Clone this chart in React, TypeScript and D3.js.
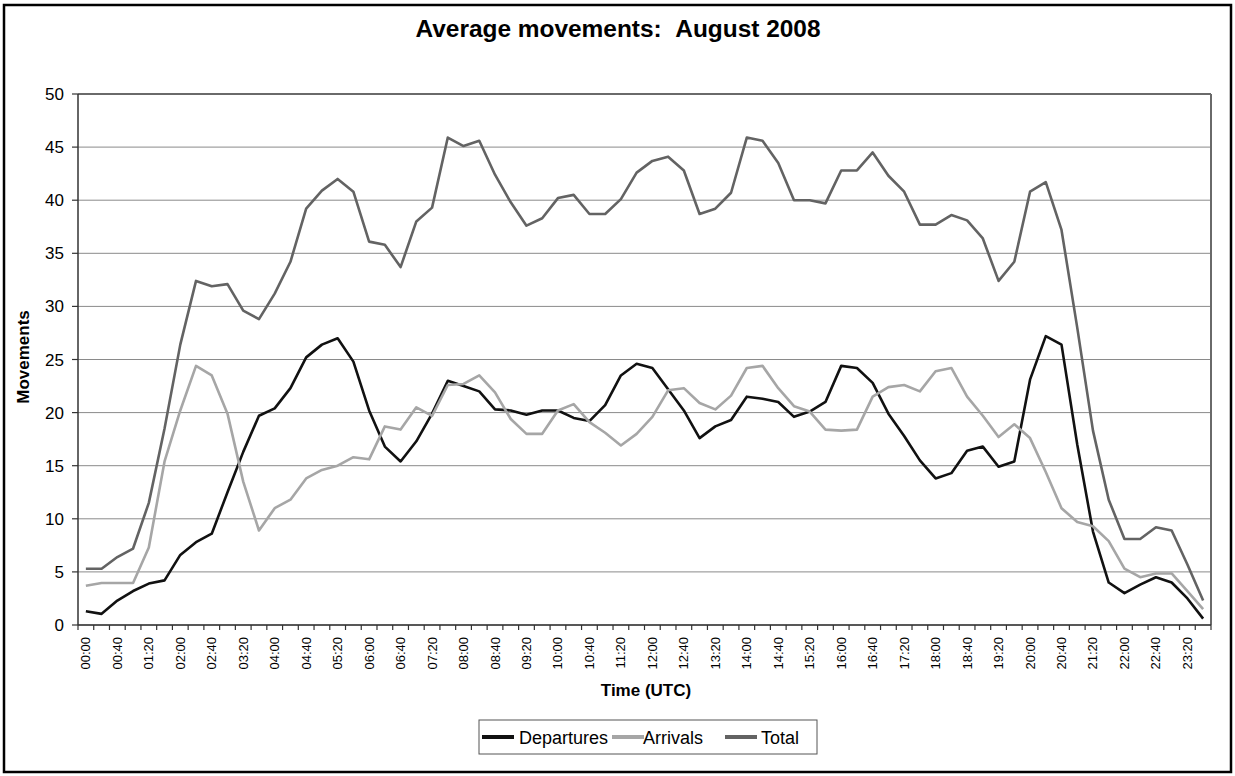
import React from "react";
import * as d3 from "d3";

// 20-minute slots, 00:00 .. 23:40
const times = d3.range(72).map((i) => {
  const h = Math.floor((i * 20) / 60);
  const m = (i * 20) % 60;
  return `${String(h).padStart(2, "0")}:${String(m).padStart(2, "0")}`;
});

const departures = [
  1.3, 1.05, 2.3, 3.2, 3.9, 4.2, 6.6, 7.8, 8.6, 12.5, 16.3, 19.7,
  20.4, 22.3, 25.2, 26.4, 27.0, 24.8, 20.2, 16.8, 15.4, 17.3, 19.9, 23.0,
  22.5, 22.0, 20.3, 20.2, 19.8, 20.2, 20.2, 19.5, 19.2, 20.7, 23.5, 24.6,
  24.2, 22.2, 20.2, 17.6, 18.7, 19.3, 21.5, 21.3, 21.0, 19.6, 20.1, 21.0,
  24.4, 24.2, 22.8, 19.9, 17.8, 15.5, 13.8, 14.3, 16.4, 16.8, 14.9, 15.4,
  23.1, 27.2, 26.4, 17.0, 8.8, 4.0, 3.0, 3.8, 4.5, 4.0, 2.5, 0.6,
];

const arrivals = [
  3.7, 3.95, 3.95, 3.95, 7.3, 15.4, 20.2, 24.4, 23.5, 19.9, 13.5, 8.9,
  11.0, 11.8, 13.8, 14.6, 15.0, 15.8, 15.6, 18.7, 18.4, 20.5, 19.7, 22.6,
  22.7, 23.5, 21.9, 19.4, 18.0, 18.0, 20.2, 20.8, 19.1, 18.1, 16.9, 18.0,
  19.6, 22.1, 22.3, 20.9, 20.3, 21.6, 24.2, 24.4, 22.3, 20.6, 20.1, 18.4,
  18.3, 18.4, 21.5, 22.4, 22.6, 22.0, 23.9, 24.2, 21.5, 19.7, 17.7, 18.9,
  17.6, 14.4, 11.0, 9.7, 9.3, 7.9, 5.3, 4.5, 4.85, 4.85, 3.2, 1.5,
];

const total = [
  5.3, 5.3, 6.4, 7.2, 11.5, 18.5, 26.4, 32.4, 31.9, 32.1, 29.6, 28.8,
  31.2, 34.2, 39.2, 40.9, 42.0, 40.8, 36.1, 35.8, 33.7, 38.0, 39.3, 45.9,
  45.1, 45.6, 42.4, 39.8, 37.6, 38.3, 40.2, 40.5, 38.7, 38.7, 40.1, 42.6,
  43.7, 44.1, 42.8, 38.7, 39.2, 40.7, 45.9, 45.6, 43.5, 40.0, 40.0, 39.7,
  42.8, 42.8, 44.5, 42.3, 40.8, 37.7, 37.7, 38.6, 38.1, 36.4, 32.4, 34.2,
  40.8, 41.7, 37.2, 28.0, 18.3, 11.8, 8.1, 8.1, 9.2, 8.9, 5.7, 2.3,
];

const yTicks = [0, 5, 10, 15, 20, 25, 30, 35, 40, 45, 50];

const series = [
  { name: "Departures", values: departures, color: "#111111" },
  { name: "Arrivals", values: arrivals, color: "#a6a6a6" },
  { name: "Total", values: total, color: "#636363" },
];

const W = 1235;
const H = 776;
const plot = { left: 78, right: 1211, top: 94, bottom: 625 };
const font = "'Liberation Sans', Arial, sans-serif";

export default function App() {
  const x = d3
    .scaleBand<number>()
    .domain(d3.range(times.length))
    .range([plot.left, plot.right]);
  const y = d3.scaleLinear().domain([0, 50]).range([plot.bottom, plot.top]);
  const cx = (i: number) => (x(i) as number) + x.bandwidth() / 2;

  const line = d3
    .line<number>()
    .x((_, i) => cx(i))
    .y((d) => y(d));

  // legend layout
  const legX = 479;
  const legY = 720;
  const legItems = [
    { ...series[0], sx: 482, tx: 519 },
    { ...series[1], sx: 612, tx: 643 },
    { ...series[2], sx: 725, tx: 761 },
  ];

  return (
    <svg
      width={W}
      height={H}
      style={{ position: "absolute", left: 0, top: 0, background: "#fff" }}
      fontFamily={font}
    >
      <rect x={0} y={0} width={W} height={H} fill="#fff" />
      <rect x={4} y={5} width={1227} height={767} fill="none" stroke="#000" strokeWidth={2.5} />

      <text
        x={618}
        y={37}
        textAnchor="middle"
        fontSize={23}
        fontWeight="bold"
        textLength={405}
        lengthAdjust="spacingAndGlyphs"
      >
        Average movements:{"\u00a0\u00a0"}August 2008
      </text>

      {/* gridlines */}
      {yTicks.map((t) => (
        <line key={t} x1={plot.left} x2={plot.right} y1={y(t)} y2={y(t)} stroke="#8a8a8a" strokeWidth={1} />
      ))}
      {/* plot frame */}
      <line x1={plot.left} x2={plot.right} y1={plot.top} y2={plot.top} stroke="#6a6a6a" strokeWidth={2} />
      <line x1={plot.right} x2={plot.right} y1={plot.top} y2={plot.bottom} stroke="#6a6a6a" strokeWidth={2} />

      {/* y axis */}
      <line x1={plot.left} x2={plot.left} y1={plot.top} y2={plot.bottom} stroke="#333" strokeWidth={1.5} />
      {yTicks.map((t) => (
        <g key={t}>
          <line x1={plot.left - 6} x2={plot.left} y1={y(t)} y2={y(t)} stroke="#333" strokeWidth={1.2} />
          <text x={64} y={y(t) + 6} textAnchor="end" fontSize={17}>
            {t}
          </text>
        </g>
      ))}
      <text transform={`translate(29, 357) rotate(-90)`} textAnchor="middle" fontSize={17} fontWeight="bold">
        Movements
      </text>

      {/* x axis */}
      <line x1={plot.left} x2={plot.right} y1={plot.bottom} y2={plot.bottom} stroke="#333" strokeWidth={1.5} />
      {d3.range(times.length + 1).map((i) => {
        const xx = i < times.length ? (x(i) as number) : plot.right;
        return <line key={i} x1={xx} x2={xx} y1={plot.bottom} y2={plot.bottom + 5} stroke="#333" strokeWidth={1.2} />;
      })}
      {times.map((t, i) =>
        i % 2 === 0 ? (
          <text
            key={t}
            transform={`translate(${cx(i) + 4.5}, 637) rotate(-90)`}
            textAnchor="end"
            fontSize={13}
          >
            {t}
          </text>
        ) : null
      )}
      <text x={646} y={696} textAnchor="middle" fontSize={17} fontWeight="bold">
        Time (UTC)
      </text>

      {/* series */}
      {series.map((s) => (
        <path key={s.name} d={line(s.values) || ""} fill="none" stroke={s.color} strokeWidth={2.6} strokeLinejoin="round" />
      ))}

      {/* legend */}
      <rect x={legX} y={legY} width={338} height={34} fill="#fff" stroke="#555" strokeWidth={1} />
      {legItems.map((it) => (
        <g key={it.name}>
          <line x1={it.sx} x2={it.sx + 32} y1={legY + 17} y2={legY + 17} stroke={it.color} strokeWidth={4} />
          <text x={it.tx} y={legY + 24} fontSize={18}>
            {it.name}
          </text>
        </g>
      ))}
    </svg>
  );
}
